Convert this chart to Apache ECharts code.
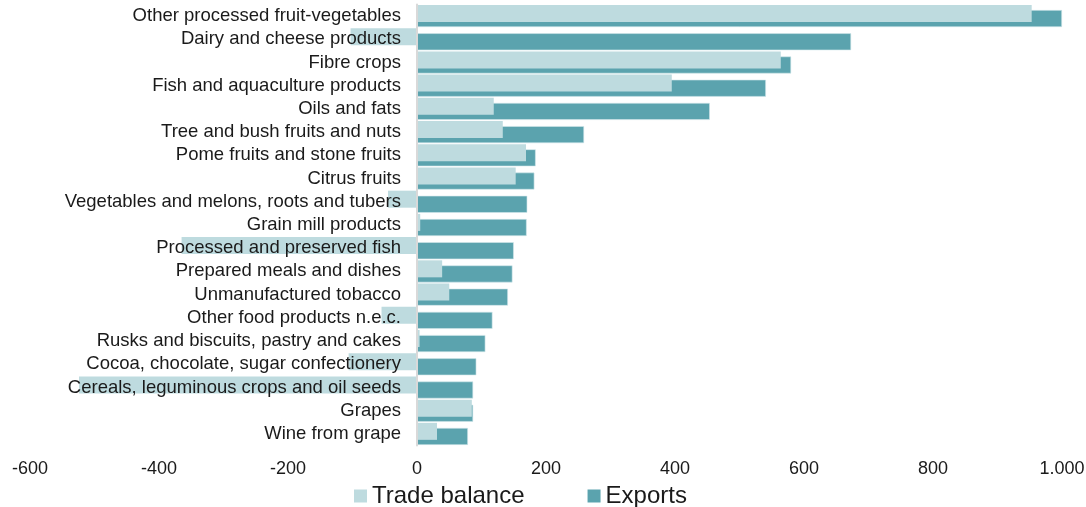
<!DOCTYPE html>
<html>
<head>
<meta charset="utf-8">
<script src="https://cdn.jsdelivr.net/npm/echarts@6/dist/echarts.min.js"></script>
<style>
html,body{margin:0;padding:0;background:#fff;}
#chart{width:1086px;height:507px;}
</style>
</head>
<body>
<div id="chart"></div>
<script>
var categories = [
  "Other processed fruit-vegetables",
  "Dairy and cheese products",
  "Fibre crops",
  "Fish and aquaculture products",
  "Oils and fats",
  "Tree and bush fruits and nuts",
  "Pome fruits and stone fruits",
  "Citrus fruits",
  "Vegetables and melons, roots and tubers",
  "Grain mill products",
  "Processed and preserved fish",
  "Prepared meals and dishes",
  "Unmanufactured tobacco",
  "Other food products n.e.c.",
  "Rusks and biscuits, pastry and cakes",
  "Cocoa, chocolate, sugar confectionery",
  "Cereals, leguminous crops and oil seeds",
  "Grapes",
  "Wine from grape"
];
var tradeBalance = [953, -103, 564, 395, 119, 133, 169, 153, -45, 5, -365, 39, 50, -55, 4, -106, -524, 85, 31];
var exports = [1000, 673, 580, 541, 454, 259, 184, 182, 171, 170, 150, 148, 141, 117, 106, 92, 87, 87, 79];
var xTicks = { min: -600, max: 1000, interval: 200 };

var chart = echarts.init(document.getElementById('chart'));
var font = 'Liberation Sans, Arial, sans-serif';
var gridLeft = 30, gridRight = 24, chartW = 1086;
var plotW = chartW - gridLeft - gridRight;
var zeroOffset = plotW * (0 - xTicks.min) / (xTicks.max - xTicks.min);
chart.setOption({
  animation: false,
  grid: { left: gridLeft, right: gridRight, top: 4.4, bottom: 61.5, containLabel: false, outerBoundsMode: 'none' },
  legend: {
    data: ['Trade balance', 'Exports'],
    left: 349, top: 479,
    itemWidth: 13, itemHeight: 13, itemGap: 63,
    icon: 'rect',
    itemStyle: { borderWidth: 0 },
    textStyle: { fontFamily: font, fontSize: 24, color: '#1a1a1a' }
  },
  xAxis: {
    type: 'value', min: xTicks.min, max: xTicks.max, interval: xTicks.interval,
    axisLine: { show: false }, axisTick: { show: false }, splitLine: { show: false },
    axisLabel: {
      fontFamily: font, fontSize: 18, color: '#1a1a1a', margin: 15,
      formatter: function (v) { return v === 1000 ? '1.000' : String(v); }
    }
  },
  yAxis: {
    type: 'category', data: categories, inverse: true, z: 10,
    position: 'left', offset: -zeroOffset,
    axisLine: { show: true, onZero: false, lineStyle: { color: '#d9d9d9', width: 2 } },
    axisTick: { show: false },
    axisLabel: { fontFamily: font, fontSize: 18.5, color: '#1a1a1a', margin: 16, interval: 0 }
  },
  series: [
    {
      name: 'Trade balance', type: 'bar', data: tradeBalance, z: 3,
      barWidth: 17, barGap: '-70%',
      itemStyle: { color: '#bedbdf' }
    },
    {
      name: 'Exports', type: 'bar', data: exports, z: 2,
      barWidth: 17, barGap: '-70%',
      itemStyle: { color: '#5ba3ae', borderColor: '#d3e8eb', borderWidth: 0.6 }
    }
  ]
});
</script>
</body>
</html>
